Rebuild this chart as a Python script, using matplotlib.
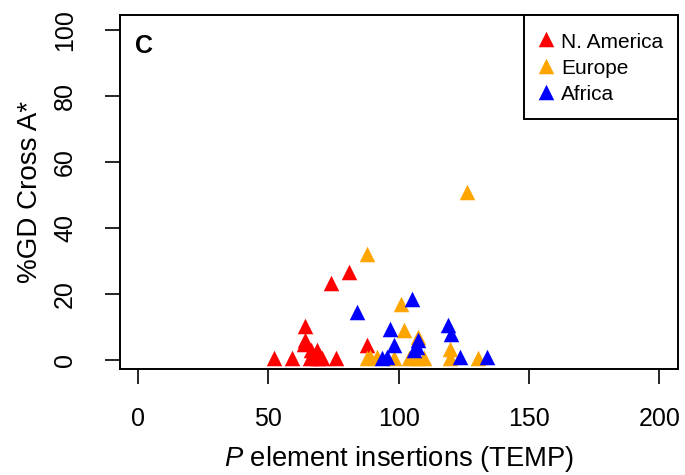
import matplotlib
matplotlib.use("Agg")
import matplotlib.pyplot as plt

plt.rcParams['font.family'] = ['Liberation Sans', 'DejaVu Sans']
plt.rcParams['mathtext.fontset'] = 'custom'
plt.rcParams['mathtext.it'] = 'Liberation Sans:italic'
plt.rcParams['mathtext.rm'] = 'Liberation Sans'

# N. America
na_x = [52, 59, 64, 64, 63.5, 66.5, 68.5, 66, 68.5, 70.5, 76, 88, 74, 81]
na_y = [0.5, 0.5, 10.3, 6, 5, 3, 3, 0.5, 0.5, 0.5, 0.5, 4.5, 23.3, 26.7]
# Europe
eu_x = [88, 126, 101, 102, 107.5, 89, 91.5, 88, 98, 104, 107, 109.5, 119.5, 119.5, 130.5]
eu_y = [32, 51, 17, 9, 7, 1, 1, 0.5, 0.5, 0.5, 0.5, 0.5, 3.5, 0.5, 0.5]
# Africa
af_x = [84, 105, 96.5, 98, 95.5, 93.5, 107.5, 107, 106, 119, 120, 123.5, 134]
af_y = [14.5, 18.5, 9.5, 4.5, 1, 0.5, 6, 4, 3, 10.5, 8, 1, 1]

xticks = [0, 50, 100, 150, 200]
yticks = [0, 20, 40, 60, 80, 100]

fig = plt.figure(figsize=(6.85, 4.75), dpi=100)
ax = fig.add_axes([120 / 685, 106 / 475, 558 / 685, 354 / 475])

ms = 125
ax.scatter(na_x, na_y, marker='^', s=ms, color='#FF0000', linewidths=0, label='N. America')
ax.scatter(eu_x, eu_y, marker='^', s=ms, color='#FFA500', linewidths=0, label='Europe')
ax.scatter(af_x, af_y, marker='^', s=ms, color='#0000FF', linewidths=0, label='Africa')

ax.set_xlim(-6.9, 207.1)
ax.set_ylim(-2.7, 104.5)
ax.set_xticks(xticks)
ax.set_yticks(yticks)
ax.tick_params(direction='out', length=11, width=1.2, labelsize=18)
ax.tick_params(axis='x', pad=16)
ax.tick_params(axis='y', pad=20)
for lab in ax.get_yticklabels():
    lab.set_rotation(90)
    lab.set_va('center')
for sp in ax.spines.values():
    sp.set_linewidth(1.4)

ax.set_xlabel(r'$\mathit{P}$ element insertions (TEMP)', fontsize=19.7, labelpad=9.5)
ax.set_ylabel('%GD Cross A*', fontsize=20, labelpad=7)
ax.text(0.027, 0.945, 'C', transform=ax.transAxes, fontsize=18, fontweight='bold',
        va='top')

leg = ax.legend(loc='upper right', bbox_to_anchor=(1, 1), borderaxespad=0,
                fontsize=15, scatterpoints=1, fancybox=False, edgecolor='black',
                framealpha=1, handletextpad=0.4, labelspacing=0.17,
                borderpad=0.7, handlelength=0.7, handleheight=1.3)
leg.get_frame().set_linewidth(1.4)

fig.savefig('out.png', dpi=100)
